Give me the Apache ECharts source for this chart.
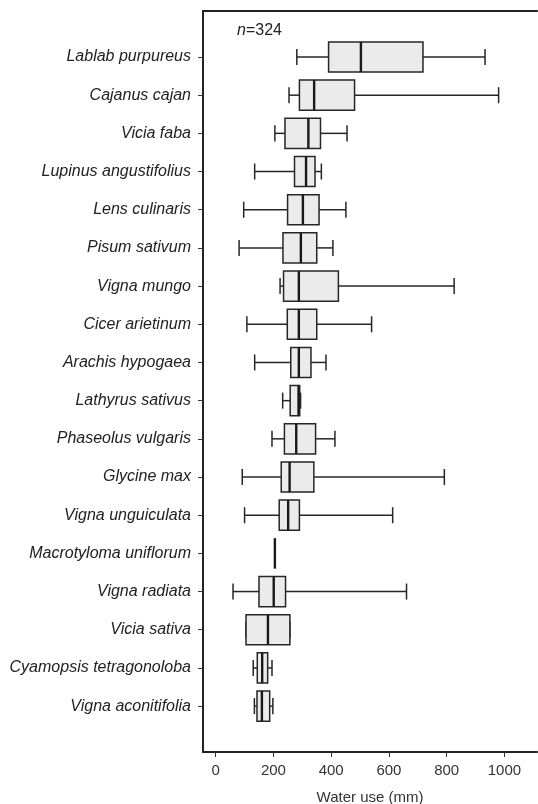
<!DOCTYPE html>
<html>
<head>
<meta charset="utf-8">
<script src="https://cdn.jsdelivr.net/npm/echarts@6/dist/echarts.min.js"></script>
<style>html,body{margin:0;padding:0;background:#fff}#c{width:538px;height:804px}</style>
</head>
<body>
<div id="c"></div>
<script>
const categories = ['Lablab purpureus','Cajanus cajan','Vicia faba','Lupinus angustifolius','Lens culinaris','Pisum sativum','Vigna mungo','Cicer arietinum','Arachis hypogaea','Lathyrus sativus','Phaseolus vulgaris','Glycine max','Vigna unguiculata','Macrotyloma uniflorum','Vigna radiata','Vicia sativa','Cyamopsis tetragonoloba','Vigna aconitifolia'];
const lowWhisker  = [281,254,205,135, 97, 81,223,108,135,232,195, 92,100,205, 60,105,130,134];
const q1          = [391,290,240,273,249,233,235,248,260,258,238,227,220,205,150,105,144,143];
const median      = [503,341,321,313,302,295,288,288,288,287,279,256,251,205,201,181,161,160];
const q3          = [718,481,363,344,358,350,425,350,330,291,346,340,290,205,242,257,180,187];
const highWhisker = [933,980,455,366,451,406,826,540,382,294,413,792,613,205,661,257,195,198];
const xTicks = [0,200,400,600,800,1000];
const xTitle = 'Water use (mm)';
const nLabel = '324';

const boxData = categories.map((c,i)=>[i,lowWhisker[i],q1[i],median[i],q3[i],highWhisker[i]]);
const FONT = '"Liberation Sans", Arial, Helvetica, sans-serif';
const XMIN = -44, XMAX = 1113;
const EDGE = '#262626';

function renderBox(params, api){
  const idx = api.value(0);
  const lo = api.coord([api.value(1), idx]);
  const a  = api.coord([api.value(2), idx]);
  const m  = api.coord([api.value(3), idx]);
  const b  = api.coord([api.value(4), idx]);
  const hi = api.coord([api.value(5), idx]);
  const band = api.size([0,1])[1];
  const hb = band * 0.395;   // half box height
  const hc = band * 0.21;    // half cap height
  const cy = m[1];
  const ls = {stroke:EDGE, lineWidth:1.5};
  return {type:'group', children:[
    {type:'line', shape:{x1:lo[0], y1:cy, x2:a[0], y2:cy}, style:ls},
    {type:'line', shape:{x1:b[0], y1:cy, x2:hi[0], y2:cy}, style:ls},
    {type:'line', shape:{x1:lo[0], y1:cy-hc, x2:lo[0], y2:cy+hc}, style:ls},
    {type:'line', shape:{x1:hi[0], y1:cy-hc, x2:hi[0], y2:cy+hc}, style:ls},
    {type:'rect', shape:{x:a[0], y:cy-hb, width:b[0]-a[0], height:2*hb}, style:{fill:'#ebebeb', stroke:EDGE, lineWidth:1.5}},
    {type:'line', shape:{x1:m[0], y1:cy-hb, x2:m[0], y2:cy+hb}, style:{stroke:'#1a1a1a', lineWidth:2.4}}
  ]};
}

const chart = echarts.init(document.getElementById('c'), null, {renderer:'canvas'});
chart.setOption({
  animation:false,
  backgroundColor:'#fff',
  title:{
    left:232, top:18,
    text:'{i|n}{r|=' + nLabel + '}',
    textStyle:{fontWeight:'normal', rich:{
      i:{fontStyle:'italic', fontWeight:'normal', fontSize:16, fontFamily:FONT, color:'#222'},
      r:{fontWeight:'normal', fontSize:16, fontFamily:FONT, color:'#222'}
    }}
  },
  grid:[
    {left:203, top:11, width:334, height:741, containLabel:false, outerBoundsMode:'none'},
    {left:203, top:37.9, width:334, height:687.3, containLabel:false, outerBoundsMode:'none'}
  ],
  xAxis:[
    {gridIndex:0, type:'value', position:'bottom', min:XMIN, max:XMAX,
     axisLine:{show:true, onZero:false, lineStyle:{color:'#222', width:2}},
     axisTick:{show:true, length:5, customValues:xTicks, lineStyle:{color:'#333', width:1}},
     axisLabel:{show:true, customValues:xTicks, margin:11, fontSize:15, fontFamily:FONT, color:'#333', formatter:(v)=>String(v)},
     splitLine:{show:false},
     name:xTitle, nameLocation:'middle', nameGap:38,
     nameTextStyle:{fontSize:15, fontFamily:FONT, color:'#333'}
    },
    {gridIndex:0, type:'value', position:'top', min:XMIN, max:XMAX,
     axisLine:{show:true, onZero:false, lineStyle:{color:'#222', width:2}},
     axisTick:{show:false}, axisLabel:{show:false}, splitLine:{show:false}
    },
    {gridIndex:1, type:'value', min:XMIN, max:XMAX, show:false,
     axisLine:{show:false, onZero:false}, axisTick:{show:false}, axisLabel:{show:false}, splitLine:{show:false}
    }
  ],
  yAxis:[
    {gridIndex:0, type:'value', min:0, max:1, position:'left',
     axisLine:{show:true, onZero:false, lineStyle:{color:'#222', width:2}},
     axisTick:{show:false}, axisLabel:{show:false}, splitLine:{show:false}
    },
    {gridIndex:1, type:'category', data:categories, inverse:true, boundaryGap:true, position:'left',
     axisLine:{show:false, onZero:false},
     axisTick:{show:true, alignWithLabel:true, length:5, lineStyle:{color:'#333', width:1}},
     axisLabel:{margin:12, fontSize:16, fontStyle:'italic', fontFamily:FONT, color:'#222'},
     splitLine:{show:false}
    }
  ],
  series:[{
    type:'custom',
    xAxisIndex:2, yAxisIndex:1,
    data:boxData,
    encode:{y:0, x:[1,2,3,4,5]},
    renderItem:renderBox,
    silent:true,
    clip:false
  }]
});
</script>
</body>
</html>
